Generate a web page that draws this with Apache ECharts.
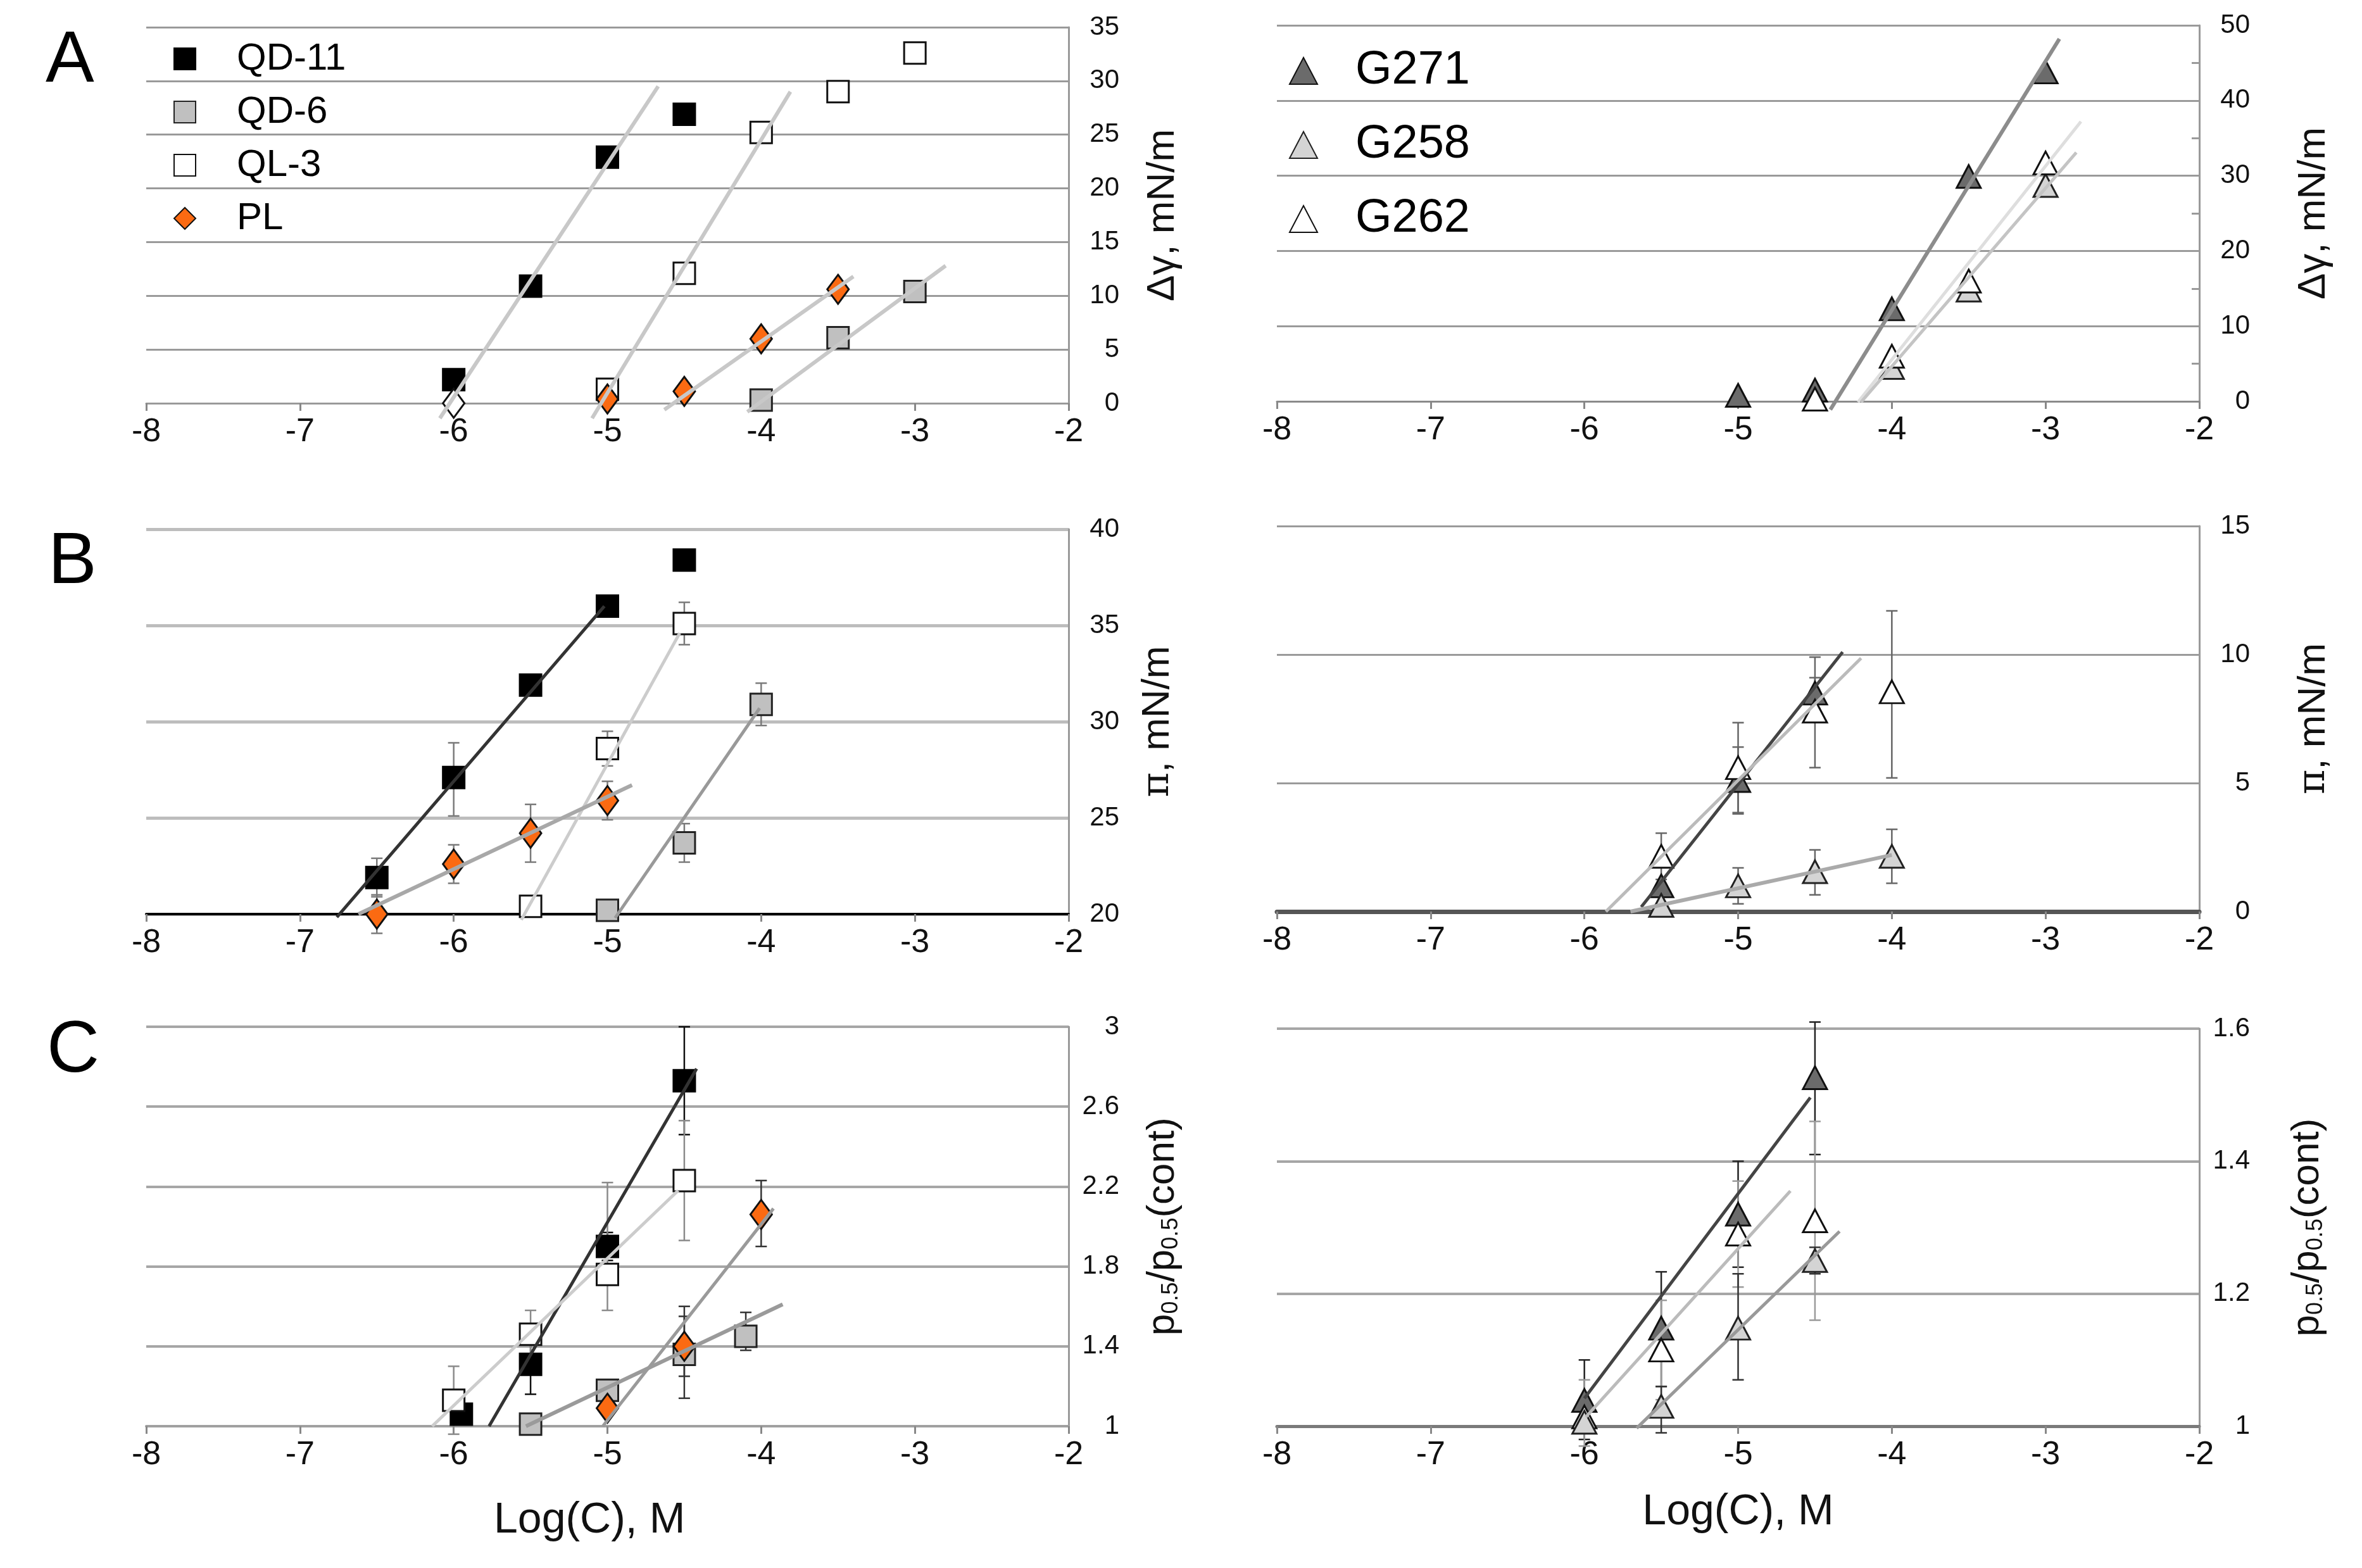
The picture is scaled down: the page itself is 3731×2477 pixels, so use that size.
<!DOCTYPE html>
<html>
<head>
<meta charset="utf-8">
<script src="https://cdn.jsdelivr.net/npm/echarts@6/dist/echarts.min.js"></script>
<style>
  html, body { margin: 0; padding: 0; background: #fff; }
  #main { width: 3731px; height: 2477px; }
</style>
</head>
<body>
<div id="main"></div>
<script>
/* panel A: surface tension change */
var aQD11 = [[-6, 2.2], [-5.5, 10.9], [-5, 22.9], [-4.5, 26.9]];
var aQD6 = [[-4, 0.3], [-3.5, 6.1], [-3, 10.4]];
var aQL3 = [[-5, 1.3], [-4.5, 12.1], [-4, 25.2], [-3.5, 29.0], [-3, 32.6]];
var aPL = [[-5, 0.4], [-4.5, 1.1], [-4, 6.0], [-3.5, 10.6]];
var aPLopen = [[-6, 0]];
var aFitQD11 = [[-6.09, -1.4], [-4.67, 29.5]];
var aFitQL3 = [[-5.10, -1.4], [-3.81, 29.0]];
var aFitPL = [[-4.63, -0.6], [-3.40, 11.8]];
var aFitQD6 = [[-4.09, -0.8], [-2.80, 12.8]];

var aG271 = [[-5, 0.8], [-4.5, 1.5], [-4, 12.3], [-3.5, 29.9], [-3, 43.8]];
var aG258 = [[-4, 4.5], [-3.5, 14.8], [-3, 28.7]];
var aG262 = [[-4.5, 0.3], [-4, 6.0], [-3.5, 16.0], [-3, 31.7]];
var aFitG271 = [[-4.40, -1.1], [-2.91, 48.2]];
var aFitG262 = [[-4.22, -0.1], [-2.77, 37.2]];
var aFitG258 = [[-4.20, -0.1], [-2.80, 33.1]];

/* panel B: surface pressure */
var bQD11 = [[-6.5, 21.9], [-6, 27.1], [-5.5, 31.9], [-5, 36.0], [-4.5, 38.4]];
var bQD11Err = [[-6.5, 20.9, 22.9], [-6, 25.1, 28.9]];
var bQD6 = [[-5, 20.2], [-4.5, 23.7], [-4, 30.9]];
var bQD6Err = [[-4.5, 22.7, 24.7], [-4, 29.8, 32.0]];
var bQL3 = [[-5.5, 20.4], [-5, 28.6], [-4.5, 35.1]];
var bQL3Err = [[-5, 27.7, 29.5], [-4.5, 34.0, 36.2]];
var bPL = [[-6.5, 20.0], [-6, 22.6], [-5.5, 24.2], [-5, 25.9]];
var bPLErr = [[-6.5, 19.0, 21.0], [-6, 21.6, 23.6], [-5.5, 22.7, 25.7], [-5, 24.9, 26.9]];
var bFitQD11 = [[-6.76, 19.84], [-5.02, 36.0]];
var bFitQL3 = [[-5.56, 19.7], [-4.53, 34.6]];
var bFitPL = [[-6.62, 20.0], [-4.84, 26.7]];
var bFitQD6 = [[-4.95, 19.8], [-4.01, 30.7]];

var bG271 = [[-5.5, 1.0], [-5, 5.1], [-4.5, 8.5]];
var bG271Err = [[-5, 3.8, 6.4], [-4.5, 7.9, 9.1]];
var bG258 = [[-5.5, 0.24], [-5, 1.0], [-4.5, 1.55], [-4, 2.15]];
var bG258Err = [[-5, 0.3, 1.7], [-4.5, 0.65, 2.4], [-4, 1.1, 3.2]];
var bG262 = [[-5.5, 2.15], [-5, 5.6], [-4.5, 7.8], [-4, 8.55]];
var bG262Err = [[-5.5, 1.25, 3.05], [-5, 3.85, 7.35], [-4.5, 5.6, 9.9], [-4, 5.2, 11.7]];
var bFitG271 = [[-5.63, 0.18], [-4.32, 10.1]];
var bFitG262 = [[-5.86, 0], [-4.20, 9.86]];
var bFitG258 = [[-5.70, 0], [-4.0, 2.2]];

/* panel C: p0.5 ratio */
var cQD11 = [[-5.95, 1.06], [-5.5, 1.31], [-5, 1.90], [-4.5, 2.73]];
var cQD11Err = [[-5.5, 1.16, 1.46], [-5, 1.83, 1.97], [-4.5, 2.46, 3.0]];
var cQD6 = [[-5.5, 1.01], [-5, 1.18], [-4.5, 1.36], [-4.1, 1.45]];
var cQD6Err = [[-4.5, 1.14, 1.60], [-4.1, 1.38, 1.57]];
var cQL3 = [[-6, 1.13], [-5.5, 1.46], [-5, 1.76], [-4.5, 2.23]];
var cQL3Err = [[-6, 0.96, 1.30], [-5.5, 1.34, 1.58], [-5, 1.58, 2.22], [-4.5, 1.93, 2.53]];
var cPL = [[-5, 1.09], [-4.5, 1.40], [-4, 2.06]];
var cPLErr = [[-4.5, 1.25, 1.55], [-4, 1.90, 2.23]];
var cFitQD11 = [[-5.77, 1.0], [-4.42, 2.79]];
var cFitQL3 = [[-6.14, 1.0], [-4.54, 2.18]];
var cFitPL = [[-5.03, 1.0], [-3.92, 2.09]];
var cFitQD6 = [[-5.53, 1.0], [-3.86, 1.61]];

var cG271 = [[-6, 1.039], [-5.5, 1.148], [-5, 1.32], [-4.5, 1.526]];
var cG271Err = [[-6, 0.98, 1.10], [-5.5, 1.06, 1.233], [-5, 1.24, 1.40], [-4.5, 1.41, 1.61]];
var cG262 = [[-6, 1.014], [-5.5, 1.115], [-5, 1.29], [-4.5, 1.31]];
var cG262Err = [[-6, 0.97, 1.07], [-5.5, 1.04, 1.19], [-5, 1.21, 1.37], [-4.5, 1.16, 1.46]];
var cG258 = [[-6, 1.006], [-5.5, 1.03], [-5, 1.148], [-4.5, 1.25]];
var cG258Err = [[-5.5, 0.99, 1.06], [-5, 1.07, 1.23], [-4.5, 1.23, 1.27]];
var cFitG271 = [[-6.0, 1.042], [-4.53, 1.496]];
var cFitG262 = [[-5.99, 1.014], [-4.66, 1.355]];
var cFitG258 = [[-5.66, 0.997], [-4.34, 1.294]];

var xTicks = [-8, -7, -6, -5, -4, -3, -2];

var chart = echarts.init(document.getElementById('main'));

var labelFont = 'Liberation Sans';

function xAx(gi, lineColor, lineWidth, name) {
    return {
        gridIndex: gi,
        type: 'value',
        min: xTicks[0],
        max: xTicks[xTicks.length - 1],
        interval: 1,
        axisLine: { show: true, onZero: false, lineStyle: { color: lineColor, width: lineWidth } },
        axisTick: { show: true, length: 12, lineStyle: { color: '#888', width: 3 } },
        axisLabel: { fontFamily: labelFont, fontSize: 52, color: '#111', margin: 20 },
        splitLine: { show: false },
        name: name || '',
        nameLocation: 'middle',
        nameGap: 102,
        nameTextStyle: { fontFamily: 'Liberation Sans', fontSize: 68, color: '#111' }
    };
}

function yAx(gi, min, max, interval, name, gap, split, extra) {
    var ax = {
        gridIndex: gi,
        type: 'value',
        position: 'right',
        min: min,
        max: max,
        interval: interval,
        axisLine: { show: true, lineStyle: { color: '#9a9a9a', width: 3 } },
        axisTick: { show: false, inside: true },
        axisLabel: { fontFamily: labelFont, fontSize: 42, color: '#111', margin: 80, align: 'right' },
        splitLine: { show: true, lineStyle: split },
        name: name,
        nameLocation: 'middle',
        nameRotate: 90,
        nameGap: gap,
        nameTextStyle: {
            fontFamily: labelFont, fontSize: 62, color: '#111',
            rich: {
                pi: { fontFamily: 'DejaVu Serif', fontSize: 60, color: '#111' },
                s: { fontFamily: labelFont, fontSize: 36, color: '#111', verticalAlign: 'bottom' }
            }
        }
    };
    if (extra) {
        for (var k in extra) { ax[k] = extra[k]; }
    }
    return ax;
}

function pts(name, data, gi, symbol, fill, border, size) {
    return {
        name: name,
        type: 'scatter',
        xAxisIndex: gi,
        yAxisIndex: gi,
        data: data,
        symbol: symbol,
        symbolSize: size,
        clip: false,
        z: 4,
        itemStyle: { color: fill, borderColor: border, borderWidth: 3, opacity: 1 }
    };
}

function fit(data, gi, color, width) {
    return {
        type: 'line',
        xAxisIndex: gi,
        yAxisIndex: gi,
        data: data,
        showSymbol: false,
        clip: false,
        silent: true,
        z: 5,
        lineStyle: { color: color, width: width }
    };
}

function err(data, gi, color) {
    return {
        type: 'custom',
        xAxisIndex: gi,
        yAxisIndex: gi,
        data: data,
        encode: { x: 0, y: [1, 2] },
        z: 3,
        silent: true,
        renderItem: function (params, api) {
            var x = api.value(0);
            var p1 = api.coord([x, api.value(1)]);
            var p2 = api.coord([x, api.value(2)]);
            var c = 9;
            var st = { stroke: color, lineWidth: 2.5 };
            return {
                type: 'group',
                children: [
                    { type: 'line', shape: { x1: p1[0], y1: p1[1], x2: p2[0], y2: p2[1] }, style: st },
                    { type: 'line', shape: { x1: p1[0] - c, y1: p1[1], x2: p1[0] + c, y2: p1[1] }, style: st },
                    { type: 'line', shape: { x1: p2[0] - c, y1: p2[1], x2: p2[0] + c, y2: p2[1] }, style: st }
                ]
            };
        }
    };
}

var SQ = 34, DI = [34, 46], TR = [38, 36];
var C_QD11 = ['#000000', '#000000'];
var C_QD6 = ['#c0c0c0', '#222222'];
var C_QL3 = ['#ffffff', '#111111'];
var C_PL = ['#fb6a12', '#111111'];
var C_G271 = ['#6b6b6b', '#111111'];
var C_G258 = ['#d4d4d4', '#222222'];
var C_G262 = ['#ffffff', '#111111'];

var gridL = 231, gridR = 2017, gridW = 1457;

var option = {
    backgroundColor: '#ffffff',
    animation: false,
    grid: [
        { left: gridL, top: 43, width: gridW, height: 594 },
        { left: gridR, top: 40, width: gridW, height: 594 },
        { left: gridL, top: 836, width: gridW, height: 608 },
        { left: gridR, top: 831, width: gridW, height: 609 },
        { left: gridL, top: 1622, width: gridW, height: 631 },
        { left: gridR, top: 1625, width: gridW, height: 628 }
    ],
    xAxis: [
        xAx(0, '#9a9a9a', 3),
        xAx(1, '#8a8a8a', 3),
        xAx(2, '#000000', 4),
        xAx(3, '#555555', 7),
        xAx(4, '#a0a0a0', 4),
        xAx(5, '#7a7a7a', 5, 'Log(C), M')
    ],
    yAxis: [
        yAx(0, 0, 35, 5, 'Δγ, mN/m', 118, { color: '#9a9a9a', width: 3 }),
        yAx(1, 0, 50, 10, 'Δγ, mN/m', 150, { color: '#9a9a9a', width: 3 },
            { minorTick: { show: true, splitNumber: 2, length: 12, lineStyle: { color: '#9a9a9a', width: 3 } } }),
        yAx(2, 20, 40, 5, '{pi|π}, mN/m', 110, { color: '#bdbdbd', width: 5 }),
        yAx(3, 0, 15, 5, '{pi|π}, mN/m', 150, { color: '#9a9a9a', width: 3 }),
        yAx(4, 1, 3, 0.4, 'p{s|0.5}/p{s|0.5}(cont)', 118, { color: '#a6a6a6', width: 4 }),
        yAx(5, 1, 1.6, 0.2, 'p{s|0.5}/p{s|0.5}(cont)', 140, { color: '#a6a6a6', width: 4 })
    ],
    legend: [
        {
            data: ['QD-11', 'QD-6', 'QL-3', 'PL'],
            orient: 'vertical',
            left: 269,
            top: 58,
            itemWidth: 34,
            itemHeight: 34,
            itemGap: 24,
            textStyle: { fontFamily: 'Liberation Sans', fontSize: 60, color: '#000', padding: [0, 0, 0, 60] }
        },
        {
            data: ['G271', 'G258', 'G262'],
            orient: 'vertical',
            left: 2031,
            top: 70,
            itemWidth: 44,
            itemHeight: 42,
            itemGap: 43,
            textStyle: { fontFamily: 'Liberation Sans', fontSize: 74, color: '#000', padding: [0, 0, 0, 55] }
        }
    ],
    graphic: [
        { type: 'text', left: 72, top: 40, style: { text: 'A', font: '115px "Liberation Sans"', fill: '#000' } },
        { type: 'text', left: 76, top: 832, style: { text: 'B', font: '115px "Liberation Sans"', fill: '#000' } },
        { type: 'text', left: 74, top: 1604, style: { text: 'C', font: '115px "Liberation Sans"', fill: '#000' } },
        { type: 'text', left: 780, top: 2368, style: { text: 'Log(C), M', font: '68px "Liberation Sans"', fill: '#111' } }
    ],
    series: [
        // A left
        pts('QD-11', aQD11, 0, 'rect', C_QD11[0], C_QD11[1], SQ),
        pts('QD-6', aQD6, 0, 'rect', C_QD6[0], C_QD6[1], SQ),
        pts('QL-3', aQL3, 0, 'rect', C_QL3[0], C_QL3[1], SQ),
        pts('PL', aPL, 0, 'diamond', C_PL[0], C_PL[1], DI),
        pts('PL open', aPLopen, 0, 'diamond', '#ffffff', '#111111', DI),
        fit(aFitQD11, 0, '#c8c8c8', 6),
        fit(aFitQL3, 0, '#c8c8c8', 6),
        fit(aFitPL, 0, '#c8c8c8', 6),
        fit(aFitQD6, 0, '#c8c8c8', 6),
        // A right
        pts('G271', aG271, 1, 'triangle', C_G271[0], C_G271[1], TR),
        pts('G258', aG258, 1, 'triangle', C_G258[0], C_G258[1], TR),
        pts('G262', aG262, 1, 'triangle', C_G262[0], C_G262[1], TR),
        fit(aFitG271, 1, '#8c8c8c', 6),
        fit(aFitG262, 1, '#dedede', 5),
        fit(aFitG258, 1, '#c4c4c4', 5),
        // B left
        err(bQD11Err, 2, '#7a7a7a'),
        err(bQD6Err, 2, '#7a7a7a'),
        err(bQL3Err, 2, '#7a7a7a'),
        err(bPLErr, 2, '#7a7a7a'),
        pts('QD-11', bQD11, 2, 'rect', C_QD11[0], C_QD11[1], SQ),
        pts('QD-6', bQD6, 2, 'rect', C_QD6[0], C_QD6[1], SQ),
        pts('QL-3', bQL3, 2, 'rect', C_QL3[0], C_QL3[1], SQ),
        pts('PL', bPL, 2, 'diamond', C_PL[0], C_PL[1], DI),
        fit(bFitQD11, 2, '#333333', 5),
        fit(bFitQL3, 2, '#cccccc', 5),
        fit(bFitPL, 2, '#a8a8a8', 6),
        fit(bFitQD6, 2, '#999999', 5),
        // B right
        err(bG271Err, 3, '#666666'),
        err(bG258Err, 3, '#666666'),
        err(bG262Err, 3, '#666666'),
        pts('G271', bG271, 3, 'triangle', C_G271[0], C_G271[1], TR),
        pts('G258', bG258, 3, 'triangle', C_G258[0], C_G258[1], TR),
        pts('G262', bG262, 3, 'triangle', C_G262[0], C_G262[1], TR),
        fit(bFitG271, 3, '#444444', 5),
        fit(bFitG262, 3, '#bbbbbb', 5),
        fit(bFitG258, 3, '#aaaaaa', 6),
        // C left
        err(cQD11Err, 4, '#111111'),
        err(cQD6Err, 4, '#333333'),
        err(cQL3Err, 4, '#8a8a8a'),
        err(cPLErr, 4, '#333333'),
        pts('QD-11', cQD11, 4, 'rect', C_QD11[0], C_QD11[1], SQ),
        pts('QD-6', cQD6, 4, 'rect', C_QD6[0], C_QD6[1], SQ),
        pts('QL-3', cQL3, 4, 'rect', C_QL3[0], C_QL3[1], SQ),
        pts('PL', cPL, 4, 'diamond', C_PL[0], C_PL[1], DI),
        fit(cFitQD11, 4, '#333333', 5),
        fit(cFitQL3, 4, '#cccccc', 5),
        fit(cFitPL, 4, '#9a9a9a', 5),
        fit(cFitQD6, 4, '#9a9a9a', 6),
        // C right
        err(cG271Err, 5, '#222222'),
        err(cG262Err, 5, '#9a9a9a'),
        err(cG258Err, 5, '#333333'),
        pts('G271', cG271, 5, 'triangle', C_G271[0], C_G271[1], TR),
        pts('G262', cG262, 5, 'triangle', C_G262[0], C_G262[1], TR),
        pts('G258', cG258, 5, 'triangle', C_G258[0], C_G258[1], TR),
        fit(cFitG271, 5, '#444444', 5),
        fit(cFitG262, 5, '#bbbbbb', 5),
        fit(cFitG258, 5, '#999999', 5)
    ]
};

chart.setOption(option);
</script>
</body>
</html>
